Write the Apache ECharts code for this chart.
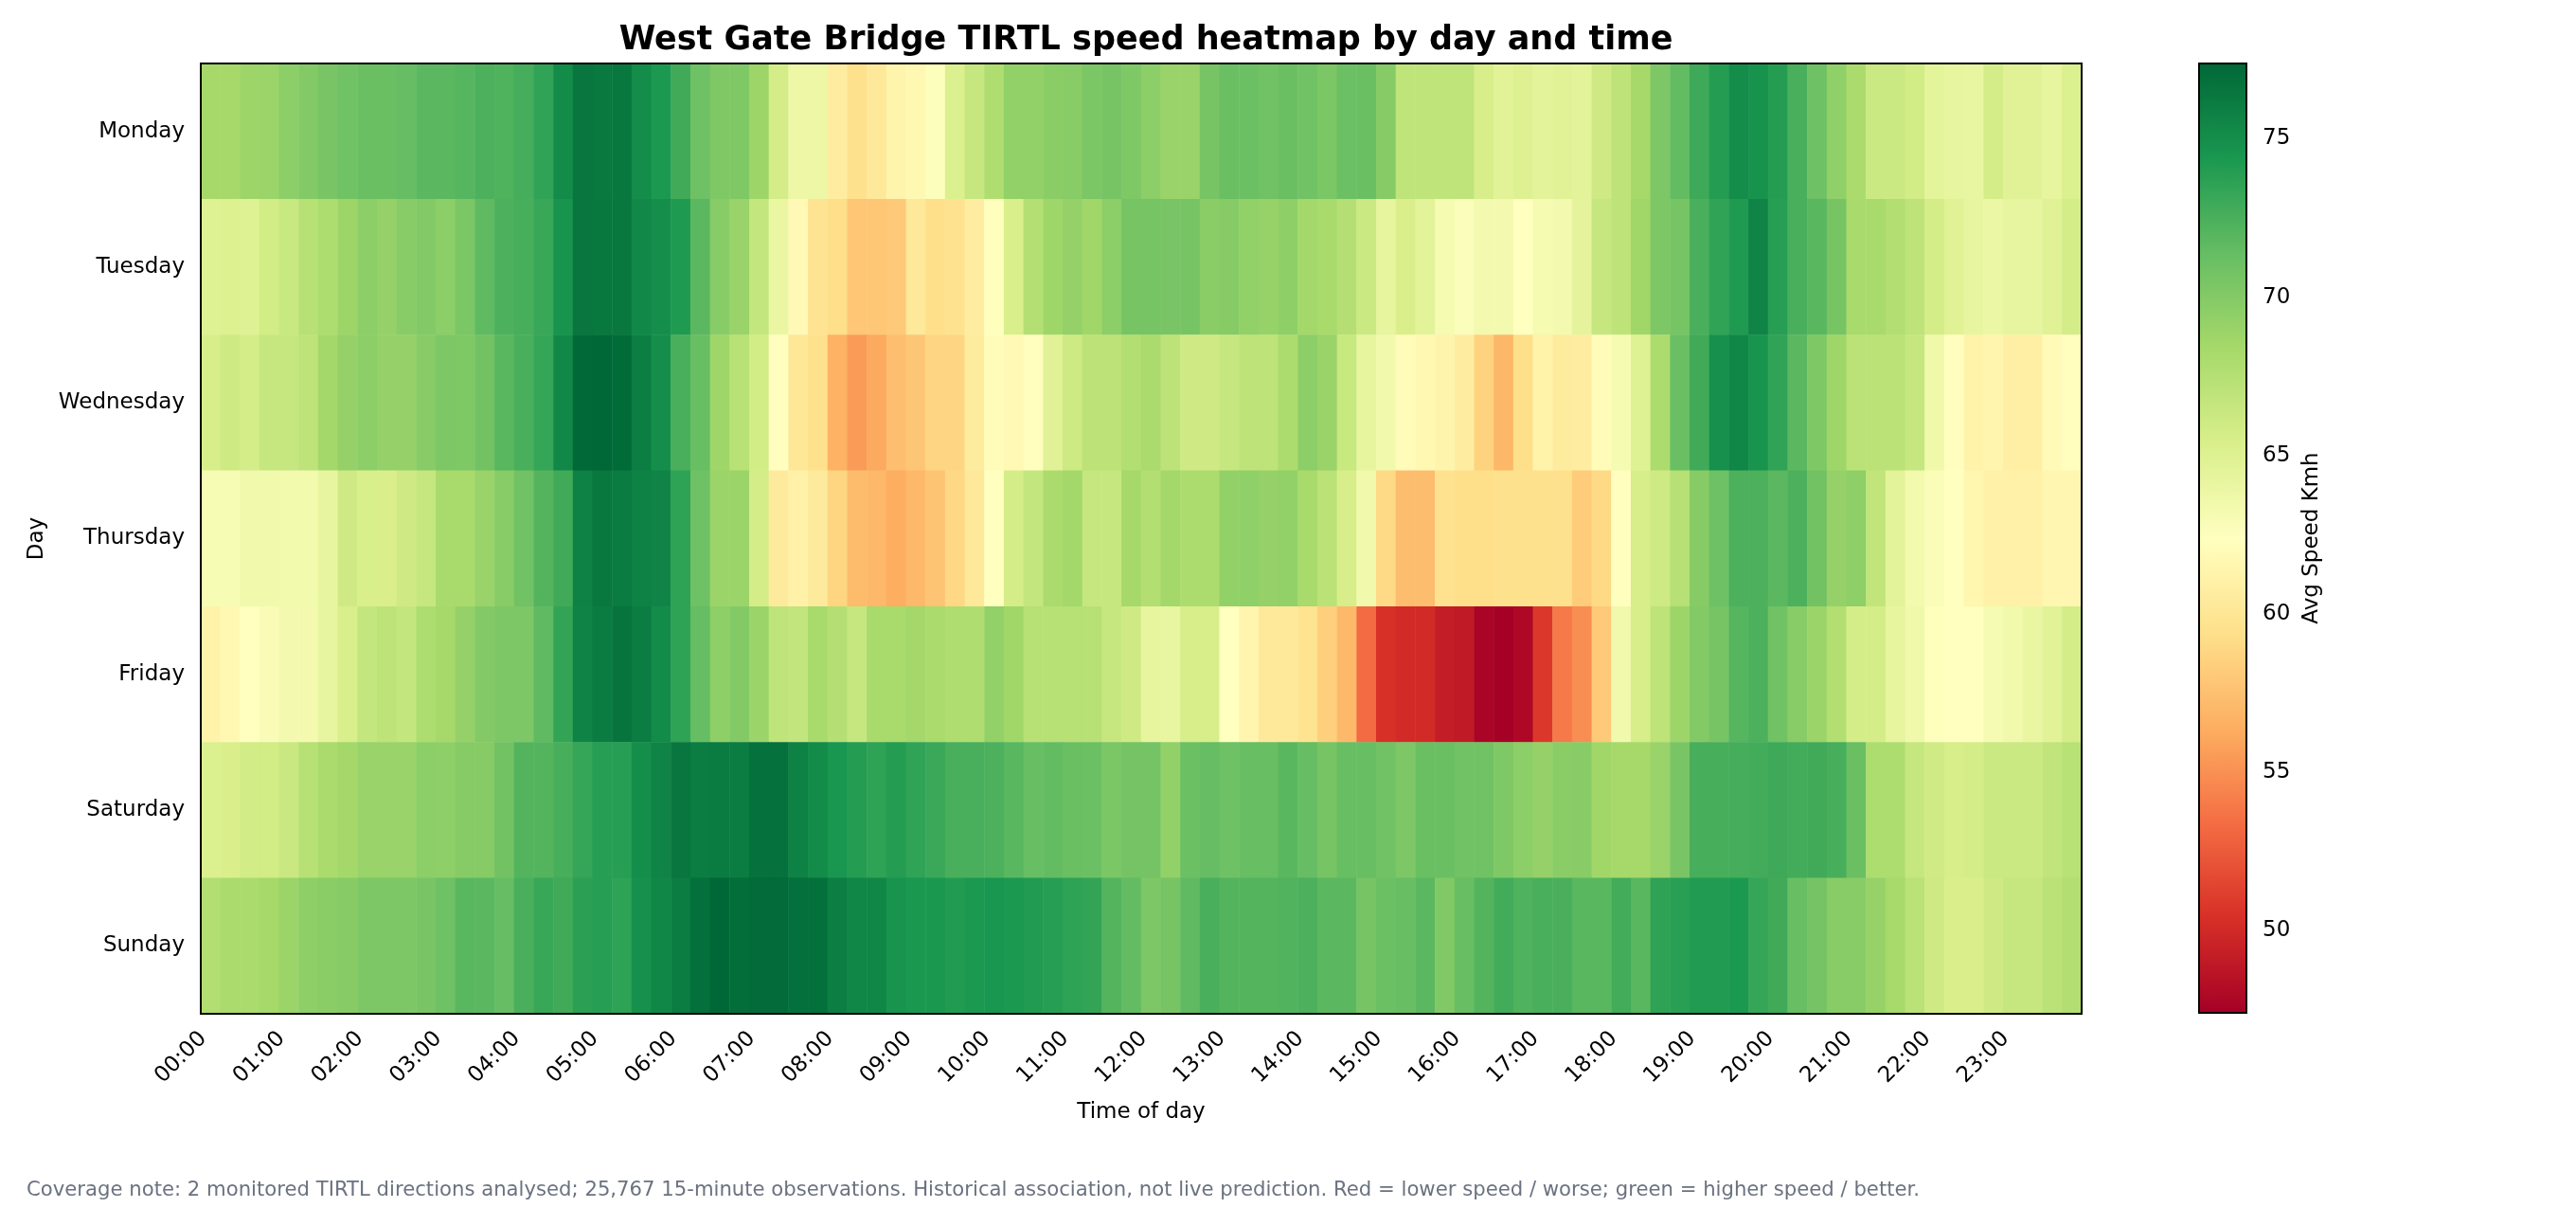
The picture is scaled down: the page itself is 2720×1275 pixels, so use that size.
<!DOCTYPE html>
<html>
<head>
<meta charset="utf-8">
<title>West Gate Bridge TIRTL speed heatmap</title>
<script src="https://cdn.jsdelivr.net/npm/echarts@6/dist/echarts.min.js"></script>
<style>
  html, body { margin: 0; padding: 0; background: #fff; }
  #chart { width: 2720px; height: 1275px; }
</style>
</head>
<body>
<div id="chart"></div>
<script>
// rows of the heatmap, top to bottom
let days = ["Monday", "Tuesday", "Wednesday", "Thursday", "Friday", "Saturday", "Sunday"]

// avg speed (km/h) per 15-minute slot, 00:00 .. 23:45
let mon = [
  68.4, 68.4, 68.8, 68.9, 69.6, 70.0, 70.5, 70.9, 71.2, 71.2, 71.4, 71.8, 71.8, 72.0, 72.4, 72.3, 72.7, 73.5, 75.2, 76.5, 76.3, 76.4, 75.1, 74.3,
  72.9, 71.0, 70.2, 70.2, 68.8, 65.7, 63.8, 63.8, 60.6, 59.5, 60.3, 61.3, 61.7, 62.6, 65.2, 66.5, 67.8, 69.3, 69.3, 69.7, 69.8, 70.4, 70.6, 70.2,
  69.6, 69.0, 69.0, 70.6, 71.2, 71.1, 70.9, 71.2, 70.9, 70.4, 71.1, 71.2, 69.9, 66.9, 66.9, 66.9, 66.9, 65.5, 64.7, 65.0, 64.6, 64.8, 64.6, 66.0,
  67.0, 68.4, 70.3, 71.5, 73.0, 74.0, 75.1, 74.7, 74.0, 72.5, 71.0, 69.4, 68.1, 66.2, 66.2, 65.8, 64.5, 64.3, 64.1, 65.6, 64.8, 64.8, 64.3, 65.2
]
let tue = [
  64.9, 65.1, 64.9, 65.8, 66.4, 67.4, 67.9, 68.8, 69.6, 69.2, 69.8, 70.0, 69.6, 70.4, 71.6, 72.4, 72.6, 73.2, 74.6, 76.5, 76.4, 76.4, 75.4, 75.0,
  74.2, 71.8, 69.8, 69.0, 66.6, 64.0, 61.8, 59.8, 59.3, 57.9, 57.9, 58.0, 60.2, 59.4, 59.6, 60.6, 62.5, 65.4, 67.6, 68.7, 69.2, 68.6, 69.6, 70.6,
  70.6, 70.5, 70.6, 69.7, 69.9, 69.3, 69.1, 69.5, 68.5, 68.2, 67.5, 66.2, 64.3, 65.3, 64.6, 63.2, 62.7, 63.3, 63.3, 62.4, 63.2, 63.3, 64.4, 66.5,
  67.0, 68.6, 70.3, 70.6, 72.5, 73.5, 74.2, 75.6, 73.9, 72.5, 71.9, 70.6, 68.2, 68.2, 67.7, 67.0, 65.7, 64.8, 64.2, 63.9, 64.2, 64.2, 64.8, 65.7
]
let wed = [
  65.5, 66.1, 65.7, 66.5, 66.5, 67.0, 68.5, 69.2, 69.6, 69.2, 69.2, 69.8, 70.3, 70.2, 70.8, 71.9, 72.5, 73.3, 75.4, 77.3, 77.4, 77.1, 76.0, 75.0,
  72.5, 71.3, 68.7, 67.3, 65.8, 62.3, 60.1, 59.5, 56.6, 55.5, 56.2, 57.4, 57.8, 58.8, 58.8, 60.5, 62.1, 61.8, 62.3, 64.8, 66.1, 67.1, 67.1, 67.7,
  68.1, 67.1, 66.0, 66.0, 66.5, 67.0, 67.0, 68.0, 69.6, 69.0, 66.4, 64.3, 63.5, 62.0, 61.7, 61.3, 60.6, 58.6, 56.9, 59.4, 61.2, 60.5, 60.6, 62.1,
  63.2, 64.9, 68.0, 71.2, 72.9, 74.9, 75.5, 74.6, 73.5, 71.8, 70.2, 68.7, 67.2, 67.2, 67.2, 66.5, 63.6, 62.3, 61.2, 61.4, 60.8, 60.8, 61.9, 62.3
]
let thu = [
  63.0, 63.0, 63.5, 63.5, 63.4, 63.4, 64.2, 66.0, 65.4, 65.3, 66.0, 66.5, 68.2, 68.2, 69.0, 69.8, 70.9, 72.1, 72.9, 75.8, 76.4, 76.2, 75.8, 75.6,
  73.6, 71.0, 68.9, 68.9, 65.7, 60.4, 61.0, 60.4, 58.7, 57.2, 57.0, 56.4, 57.0, 57.7, 58.9, 60.2, 62.4, 65.7, 66.6, 68.1, 68.5, 66.5, 66.5, 68.4,
  67.7, 68.5, 68.0, 68.0, 69.3, 69.4, 69.2, 69.3, 68.2, 67.2, 65.5, 63.5, 59.0, 57.3, 57.3, 59.6, 59.4, 59.4, 59.5, 59.5, 59.5, 59.5, 58.2, 59.0,
  62.3, 65.5, 66.1, 67.4, 69.9, 71.0, 72.4, 72.4, 71.8, 72.4, 70.8, 69.2, 69.5, 66.8, 64.6, 63.4, 62.8, 62.4, 61.5, 61.0, 61.0, 61.0, 61.6, 61.6
]
let fri = [
  61.2, 61.7, 62.4, 62.9, 63.3, 63.3, 64.2, 65.4, 66.6, 67.0, 66.6, 67.9, 68.4, 69.2, 70.0, 70.3, 70.3, 71.6, 73.4, 75.7, 76.2, 76.6, 76.1, 75.2,
  73.6, 71.4, 69.5, 70.0, 68.9, 66.9, 66.7, 68.2, 67.5, 66.5, 68.2, 68.2, 68.5, 68.1, 67.8, 67.8, 69.3, 68.6, 67.4, 67.4, 67.4, 67.4, 66.5, 66.0,
  64.3, 64.1, 65.5, 65.5, 62.4, 61.4, 60.3, 60.3, 59.7, 58.4, 57.0, 53.3, 50.4, 50.1, 50.1, 49.2, 49.0, 47.7, 47.4, 47.9, 50.8, 54.0, 54.9, 58.0,
  63.5, 65.5, 67.0, 68.8, 70.0, 70.6, 72.0, 72.4, 70.9, 69.8, 68.9, 67.7, 65.6, 65.6, 64.3, 63.6, 62.5, 62.4, 62.4, 63.1, 63.5, 64.0, 64.7, 65.7
]
let sat = [
  65.2, 65.3, 65.8, 65.8, 66.3, 67.4, 68.1, 68.5, 69.0, 69.0, 69.0, 69.6, 69.5, 69.9, 69.9, 70.8, 72.1, 72.1, 72.6, 73.3, 73.9, 73.9, 75.0, 75.6,
  76.5, 76.1, 76.2, 76.1, 76.8, 76.8, 75.8, 75.2, 74.5, 74.0, 73.6, 74.0, 73.5, 73.1, 72.5, 72.5, 72.4, 71.9, 71.3, 71.5, 71.2, 71.1, 70.4, 70.7,
  70.7, 69.3, 71.1, 71.4, 71.0, 71.3, 71.3, 71.9, 71.4, 70.6, 71.3, 71.3, 70.9, 70.3, 71.2, 71.2, 70.9, 70.9, 70.2, 69.6, 69.2, 69.7, 69.8, 68.6,
  68.4, 68.4, 69.0, 70.5, 72.6, 72.6, 72.7, 72.8, 73.0, 72.8, 72.9, 72.6, 71.2, 67.9, 67.9, 66.5, 65.9, 65.5, 65.7, 66.2, 66.2, 66.2, 66.8, 67.3
]
let sun = [
  67.7, 68.1, 68.1, 68.4, 68.9, 69.5, 69.7, 69.9, 70.3, 70.3, 70.3, 70.5, 71.0, 71.9, 71.8, 71.4, 72.5, 73.2, 72.9, 73.7, 73.9, 73.6, 74.9, 75.5,
  76.1, 76.9, 77.4, 77.0, 77.2, 77.2, 76.9, 76.9, 76.0, 75.5, 75.5, 74.6, 74.4, 74.4, 74.1, 74.3, 74.5, 74.3, 74.1, 73.9, 73.6, 73.4, 72.1, 71.5,
  70.3, 70.6, 71.6, 72.5, 72.1, 72.1, 72.1, 72.2, 72.4, 71.8, 71.8, 70.6, 71.1, 71.3, 71.8, 70.1, 71.3, 72.1, 72.8, 72.3, 72.5, 72.5, 71.9, 71.9,
  72.8, 71.9, 73.6, 73.8, 74.1, 74.1, 74.3, 73.3, 72.9, 71.3, 70.7, 69.8, 69.8, 69.1, 68.3, 67.2, 66.0, 65.3, 65.3, 66.0, 66.5, 66.5, 67.2, 67.7
]

// colour scale limits and colorbar ticks
let speedMin = 47.39
let speedMax = 77.38
let barTicks = [50, 55, 60, 65, 70, 75]

// RdYlGn, low speed (red) to high speed (green)
let rdylgn = ["#a50026", "#d73027", "#f46d43", "#fdae61", "#fee08b", "#ffffbf",
  "#d9ef8b", "#a6d96a", "#66bd63", "#1a9850", "#006837"]

let footNote = "Coverage note: 2 monitored TIRTL directions analysed; 25,767 15-minute observations. " +
  "Historical association, not live prediction. Red = lower speed / worse; green = higher speed / better."

// x categories: one per 15 minutes
let times = []
for (let h = 0; h < 24; h++) {
  for (let m = 0; m < 60; m += 15) {
    times.push(String(h).padStart(2, "0") + ":" + String(m).padStart(2, "0"))
  }
}

function buildCells() {
  let rows = [mon, tue, wed, thu, fri, sat, sun]
  let cells = []
  for (let d = 0; d < rows.length; d++) {
    for (let t = 0; t < rows[d].length; t++) {
      cells.push([t, d, rows[d][t]])
    }
  }
  return cells
}

let font = "DejaVu Sans"
let myChart = echarts.init(document.getElementById("chart"), null, { renderer: "canvas" })

let option = {
  animation: false,
  backgroundColor: "#fff",
  textStyle: { fontFamily: font },
  title: [
    {
      text: "West Gate Bridge TIRTL speed heatmap by day and time",
      left: 1205,
      top: 20,
      textAlign: "center",
      textStyle: { fontFamily: font, fontSize: 35, fontWeight: "bold", color: "#000" }
    },
    {
      text: footNote,
      left: 23,
      top: 1241,
      textStyle: { fontFamily: font, fontSize: 21.2, fontWeight: "normal", color: "#6b7280" }
    }
  ],
  grid: [
    // main heatmap area
    { left: 212, top: 67, width: 1986, height: 1003, show: true, z: 3,
      backgroundColor: "transparent", borderColor: "#000", borderWidth: 2 },
    // colorbar frame + tick axis
    { left: 2322, top: 67, width: 50, height: 1002, show: true, z: 6,
      backgroundColor: "transparent", borderColor: "#000", borderWidth: 2 }
  ],
  xAxis: [
    {
      type: "category",
      gridIndex: 0,
      data: times,
      name: "Time of day",
      nameLocation: "middle",
      nameGap: 93,
      nameTextStyle: { fontFamily: font, fontSize: 23, color: "#000" },
      axisLine: { show: false },
      axisTick: { interval: 3, alignWithLabel: true, length: 8, lineStyle: { color: "#000", width: 2 } },
      axisLabel: { interval: 3, rotate: 45, margin: 15, padding: [0, 11, 0, 0],
        fontFamily: font, fontSize: 23, color: "#000" },
      splitLine: { show: false },
      splitArea: { show: false }
    },
    { type: "value", gridIndex: 1, show: false, min: 0, max: 1 }
  ],
  yAxis: [
    {
      type: "category",
      gridIndex: 0,
      data: days,
      inverse: true,
      name: "Day",
      nameLocation: "middle",
      nameGap: 160,
      nameTextStyle: { fontFamily: font, fontSize: 23, color: "#000" },
      axisLine: { show: false },
      axisTick: { alignWithLabel: true, length: 8, lineStyle: { color: "#000", width: 2 } },
      axisLabel: { margin: 17, padding: [11, 0, 0, 0], fontFamily: font, fontSize: 23, color: "#000" },
      splitLine: { show: false },
      splitArea: { show: false }
    },
    {
      type: "value",
      gridIndex: 1,
      position: "right",
      min: speedMin,
      max: speedMax,
      name: "Avg Speed Kmh",
      nameLocation: "middle",
      nameGap: 58,
      nameTextStyle: { fontFamily: font, fontSize: 23, color: "#000" },
      axisLine: { show: false },
      axisTick: { show: true, customValues: barTicks, length: 8, lineStyle: { color: "#000", width: 2 } },
      axisLabel: { customValues: barTicks, margin: 17, padding: [11, 0, 0, 0],
        fontFamily: font, fontSize: 23, color: "#000" },
      splitLine: { show: false }
    }
  ],
  visualMap: {
    type: "continuous",
    seriesIndex: 0,
    dimension: 2,
    min: speedMin,
    max: speedMax,
    orient: "vertical",
    left: 2322,
    top: 67,
    padding: 0,
    itemWidth: 50,
    itemHeight: 1002,
    calculable: false,
    hoverLink: false,
    inRange: { color: rdylgn }
  },
  series: [
    {
      type: "heatmap",
      xAxisIndex: 0,
      yAxisIndex: 0,
      data: buildCells(),
      progressive: 0,
      itemStyle: { borderWidth: 0 },
      emphasis: { disabled: true }
    }
  ]
}
myChart.setOption(option)
</script>
</body>
</html>
